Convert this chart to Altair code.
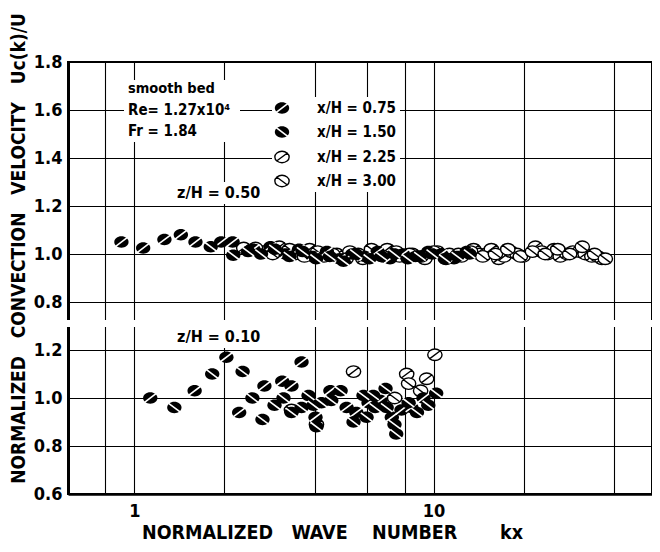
import altair as alt
import pandas as pd

SERIES = ["x/H = 0.75", "x/H = 1.50", "x/H = 2.25", "x/H = 3.00"]

# ---- z/H = 0.50 (upper panel) ----
U_K_075 = [0.905, 1.07, 1.26, 1.43, 1.60, 1.95, 2.13, 2.5, 2.85, 3.2, 3.55, 3.95, 4.4, 4.85, 5.35,
           5.9, 6.5, 7.15, 7.9, 8.7, 9.6, 10.6, 11.7, 12.9]
U_V_075 = [1.05, 1.025, 1.06, 1.08, 1.05, 1.05, 1.05, 1.02, 1.03, 1.00, 1.02, 0.99, 1.01, 0.98, 1.00,
           0.99, 1.01, 0.98, 1.00, 0.99, 1.01, 1.00, 0.98, 1.01]
U_K_150 = [1.80, 2.14, 2.4, 2.65, 2.95, 3.3, 3.65, 4.05, 4.5, 5.0, 5.5, 6.1, 6.7, 7.4, 8.2,
           9.0, 9.9, 10.9, 12.0, 13.2]
U_V_150 = [1.03, 0.995, 1.01, 1.00, 1.02, 0.99, 1.01, 0.98, 0.99, 0.97, 1.00, 0.98, 0.99, 1.00, 0.98,
           0.99, 1.00, 0.98, 0.99, 1.00]
U_K_225 = [2.32, 2.7, 3.05, 3.45, 3.85, 4.3, 4.75, 5.25, 5.8, 6.4, 7.0, 7.7, 8.5, 9.35, 10.3,
           11.3, 12.4, 13.6, 14.2, 15.0, 15.6, 16.5, 17.2, 18.1, 19.0, 19.9, 21.9, 23.0, 24.1,
           25.3, 26.5, 27.9, 29.2, 30.7, 32.1, 33.8, 35.3, 36.5]
U_V_225 = [1.025, 1.01, 1.03, 1.00, 1.02, 0.99, 1.00, 1.01, 0.98, 1.00, 1.02, 0.99, 1.00, 0.98, 1.01,
           1.00, 0.99, 1.02, 1.00, 1.00, 1.02, 0.98, 0.99, 1.01, 1.00, 0.99, 1.03, 1.01, 1.00,
           1.02, 0.99, 1.00, 1.01, 1.01, 1.00, 0.99, 0.99, 0.98]
U_K_300 = [2.54, 2.9, 3.3, 3.7, 4.1, 4.6, 5.1, 5.6, 6.2, 6.8, 7.5, 8.3, 9.1, 10.0, 11.0,
           12.1, 13.3, 14.6, 16.1, 17.7, 19.5, 21.4, 23.6, 26.0, 28.5, 31.4, 34.5, 37.5]
U_V_300 = [1.025, 1.00, 1.02, 0.99, 1.01, 1.00, 0.98, 1.00, 1.02, 0.99, 1.01, 1.00, 0.99, 1.01, 0.98,
           1.00, 1.01, 0.99, 1.00, 1.02, 0.99, 1.01, 1.00, 1.02, 1.00, 1.03, 1.00, 0.98]

# ---- z/H = 0.10 (lower panel) ----
L_K_075 = [1.13, 1.59, 2.03, 2.24, 2.72, 3.12, 3.35, 3.62, 4.03, 4.52, 5.12, 5.52, 6.06, 6.65, 7.25,
           7.81, 8.43, 9.25]
L_V_075 = [1.00, 1.03, 1.17, 0.94, 1.05, 1.07, 1.05, 1.15, 0.92, 1.03, 0.96, 0.94, 0.98, 0.99, 0.92,
           0.95, 0.96, 1.00]
L_K_150 = [1.36, 1.82, 2.30, 2.48, 2.68, 2.94, 3.15, 3.35, 3.62, 3.82, 3.97, 4.06, 4.22, 4.55, 4.89,
           5.40, 5.83, 5.97, 6.28, 6.38, 6.91, 6.97, 7.4, 7.5, 8.25, 8.8, 9.6, 10.2]
L_V_150 = [0.96, 1.10, 1.11, 1.00, 0.91, 0.97, 1.00, 0.94, 0.96, 1.01, 0.97, 0.88, 0.98, 0.99, 1.03,
           0.90, 1.01, 0.92, 1.01, 0.96, 1.04, 0.96, 0.89, 0.85, 0.98, 0.94, 0.97, 1.02]
L_K_225 = [4.06, 5.40, 8.13, 9.48, 10.1]
L_V_225 = [0.89, 1.11, 1.10, 1.08, 1.18]
L_K_300 = [3.35, 7.41, 8.25, 9.05]
L_V_300 = [0.95, 1.00, 1.06, 1.03]

X_GRID = [0.8, 1, 2, 4, 6, 8, 10, 20, 40]
Y_LOWER_TICKS = [0.6, 0.8, 1.0, 1.2]
Y_UPPER_TICKS = [0.8, 1.0, 1.2, 1.4, 1.6, 1.8]

OFFSET = 0.6  # upper panel is stacked above the lower one on a shared axis


def rows(series, ks, vs, shift):
    return [{"series": series, "k": k, "v": round(v + shift, 4)} for k, v in zip(ks, vs)]


data = []
data += rows(SERIES[0], U_K_075, U_V_075, OFFSET)
data += rows(SERIES[1], U_K_150, U_V_150, OFFSET)
data += rows(SERIES[2], U_K_225, U_V_225, OFFSET)
data += rows(SERIES[3], U_K_300, U_V_300, OFFSET)
data += rows(SERIES[0], L_K_075, L_V_075, 0)
data += rows(SERIES[1], L_K_150, L_V_150, 0)
data += rows(SERIES[2], L_K_225, L_V_225, 0)
data += rows(SERIES[3], L_K_300, L_V_300, 0)
df = pd.DataFrame(data)
one = pd.DataFrame({"a": [0]})

W, H = 584, 432
FONT = "DejaVu Sans Condensed"
SZ = 205
ELLIPSE = "M-1,0A1,0.8,0,1,1,1,0A1,0.8,0,1,1,-1,0Z"
SL_FWD = "M-0.8,0.6L0.8,-0.6"
SL_BCK = "M-0.8,-0.6L0.8,0.6"

y_vals = Y_LOWER_TICKS + [round(u + OFFSET, 2) for u in Y_UPPER_TICKS]
SP = "\u00a0"

X_ENC = alt.X(
    "k:Q",
    scale=alt.Scale(type="log", domain=[0.6, 53.7], nice=False),
    axis=alt.Axis(
        values=X_GRID,
        labelExpr="datum.value == 1 ? '1' : (datum.value == 10 ? '10' : '')",
        labelOverlap=False, labelFlush=False, labelPadding=8, domainWidth=2.5,
        title=f"NORMALIZED{SP*3}WAVE{SP*4}NUMBER{SP*7}kx",
        titleFontSize=19.5, titlePadding=3, titleX=264, titleAlign="center",
    ),
)
Y_ENC = alt.Y(
    "v:Q",
    scale=alt.Scale(domain=[0.6, 2.4], nice=False, zero=False),
    axis=alt.Axis(
        values=y_vals,
        labelExpr="datum.value > 1.3 ? format(datum.value - 0.6, '.1f') : format(datum.value, '.1f')",
        labelPadding=6, domainWidth=3,
        title=f"NORMALIZED{SP*3}CONVECTION{SP*3}VELOCITY{SP*3}Uc(k)/U",
        titleFontSize=19, titleAngle=270, titleAlign="center", titleBaseline="middle",
        titleX=-50, titleY=186,
    ),
)

base = alt.Chart(df).encode(x=X_ENC, y=Y_ENC)


def filled_pts(series, slash):
    sub = base.transform_filter(alt.datum.series == series)
    body = sub.mark_point(shape=ELLIPSE, filled=True, color="black", opacity=1, size=SZ, strokeWidth=0)
    cut = sub.mark_point(shape=slash, filled=False, color="white", opacity=1, size=SZ, strokeWidth=1.6)
    return [body, cut]


def open_pts(series, slash):
    sub = base.transform_filter(alt.datum.series == series)
    return [sub.mark_point(shape=ELLIPSE + slash, filled=False, stroke="black", fill="white",
                           opacity=1, size=SZ, strokeWidth=1.4)]


def box(x0, x1, y0, y1):
    return alt.Chart(one).mark_rect(color="white").encode(
        x=alt.value(x0), x2=alt.value(x1), y=alt.value(y0), y2=alt.value(y1))


def label(txt, x, y, size=15):
    return alt.Chart(one).mark_text(align="left", baseline="middle", font=FONT, fontSize=size,
                                    fontWeight="bold", color="black").encode(
        x=alt.value(x), y=alt.value(y), text=alt.value(txt))


def legend_marker(kind, slash, x, y):
    c = alt.Chart(one)
    if kind == "filled":
        return [c.mark_point(shape=ELLIPSE, filled=True, color="black", opacity=1, size=SZ,
                             strokeWidth=0).encode(x=alt.value(x), y=alt.value(y)),
                c.mark_point(shape=slash, filled=False, color="white", opacity=1, size=SZ,
                             strokeWidth=1.6).encode(x=alt.value(x), y=alt.value(y))]
    return [c.mark_point(shape=ELLIPSE + slash, filled=False, stroke="black", fill="white", opacity=1,
                         size=SZ, strokeWidth=1.4).encode(x=alt.value(x), y=alt.value(y))]


layers = [
    # axis break
    box(-4, W + 4, 258, 265),
    # text backgrounds
    box(56, 172, 18, 80),
    box(204, 332, 35, 130),
    box(104, 194, 120, 142),
    box(104, 194, 264, 286),
]
layers += open_pts(SERIES[2], SL_FWD)
layers += open_pts(SERIES[3], SL_BCK)
layers += filled_pts(SERIES[0], SL_FWD)
layers += filled_pts(SERIES[1], SL_BCK)

layers += [
    label("smooth bed", 60, 27, 14.5),
    label("Re= 1.27x10\u2074", 60, 48),
    label("Fr = 1.84", 60, 69),
    label("z/H = 0.50", 109, 131, 16),
    label("z/H = 0.10", 109, 275, 16),
]
leg_y = [46, 70, 95, 119]
leg_kind = [("filled", SL_FWD), ("filled", SL_BCK), ("open", SL_FWD), ("open", SL_BCK)]
for (kind, sl), yy, name in zip(leg_kind, leg_y, SERIES):
    layers += legend_marker(kind, sl, 214, yy)
    layers.append(label(name, 249, yy))

chart = alt.layer(*layers).properties(
    width=W, height=H,
    autosize=alt.AutoSizeParams(type="none"),
    padding={"left": 60, "right": 0, "top": 54, "bottom": 48},
).configure_view(
    stroke="black", strokeWidth=2
).configure_axis(
    grid=True, gridColor="black", gridWidth=1.1, gridOpacity=1,
    domainColor="black", ticks=False,
    labelFont=FONT, labelFontSize=18, labelFontWeight="bold", labelColor="black",
    titleFont=FONT, titleFontWeight="bold", titleColor="black",
)

chart.save("out.html", embed_options={"renderer": "svg", "actions": False})
